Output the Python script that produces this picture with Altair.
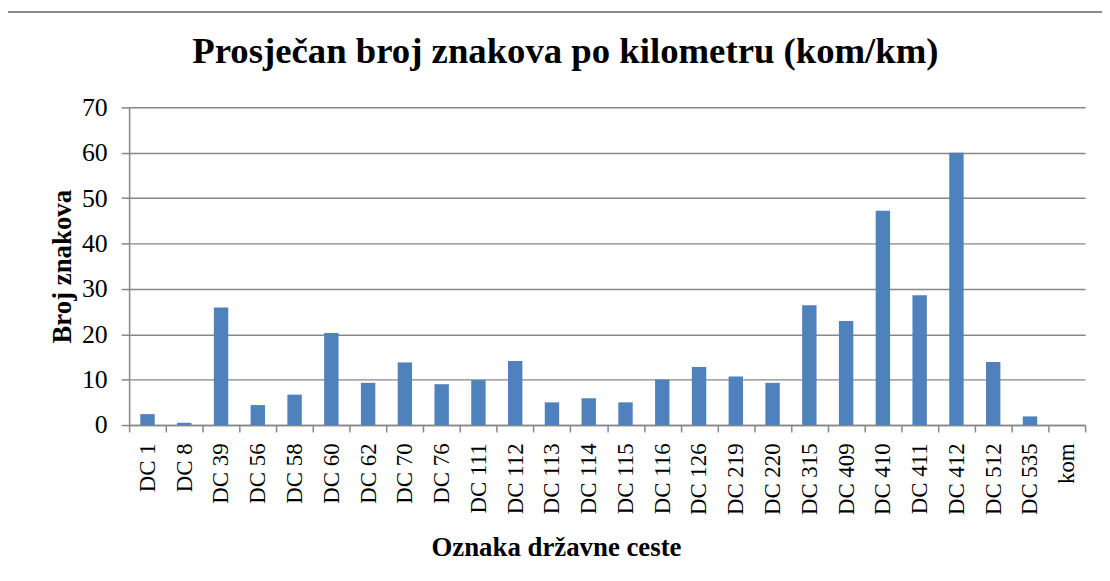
import altair as alt
import pandas as pd

categories = ["DC 1", "DC 8", "DC 39", "DC 56", "DC 58", "DC 60", "DC 62", "DC 70",
              "DC 76", "DC 111", "DC 112", "DC 113", "DC 114", "DC 115", "DC 116",
              "DC 126", "DC 219", "DC 220", "DC 315", "DC 409", "DC 410", "DC 411",
              "DC 412", "DC 512", "DC 535", "kom"]
values = [2.4, 0.5, 25.9, 4.4, 6.7, 20.3, 9.3, 13.8, 9.0, 9.9, 14.1, 5.0, 5.9,
          5.0, 10.0, 12.8, 10.7, 9.3, 26.4, 22.9, 47.2, 28.6, 60.0, 13.9, 1.9, None]
y_ticks = [0, 10, 20, 30, 40, 50, 60, 70]

df = pd.DataFrame({"cesta": categories, "broj": values})

FONT = "Liberation Serif"
GRID = "#878787"

frame = alt.Chart(pd.DataFrame({"f": [0]})).mark_rect(
    fill="transparent", stroke="#8a8a8a", strokeWidth=2
).encode(
    x=alt.value(-126), x2=alt.value(990), y=alt.value(-96), y2=alt.value(520)
)

bars = alt.Chart(df).mark_bar(color="#4f81bd", size=14.5).encode(
    x=alt.X(
        "cesta:N",
        sort=categories,
        scale=alt.Scale(domain=categories, paddingInner=0, paddingOuter=0),
        axis=alt.Axis(
            title="Oznaka državne ceste",
            labelAngle=270,
            labelAlign="right",
            labelBaseline="middle",
            labelFont=FONT,
            labelFontSize=23,
            labelColor="black",
            labelPadding=11,
            tickBand="extent",
            tickSize=7,
            tickColor=GRID,
            tickWidth=1.5,
            domainColor=GRID,
            domainWidth=1.5,
            grid=False,
            titleFont=FONT,
            titleFontSize=27,
            titleFontWeight="bold",
            titleColor="black",
            titleX=430,
            titleY=131,
            titleAlign="center",
            titleBaseline="alphabetic",
        ),
    ),
    y=alt.Y(
        "broj:Q",
        scale=alt.Scale(domain=[0, 70], nice=False),
        axis=alt.Axis(
            title="Broj znakova",
            values=y_ticks,
            labelFont=FONT,
            labelFontSize=26,
            labelColor="black",
            labelPadding=14,
            tickSize=8,
            tickColor=GRID,
            tickWidth=1.5,
            domainColor=GRID,
            domainWidth=1.5,
            grid=True,
            gridColor=GRID,
            gridWidth=1.5,
            titleFont=FONT,
            titleFontSize=27,
            titleFontWeight="bold",
            titleColor="black",
            titleAngle=270,
            titleX=-59,
            titleY=160,
            titleAlign="center",
            titleBaseline="alphabetic",
        ),
    ),
)

chart = alt.layer(frame, bars).properties(
    width=963,
    height=320,
    padding={"left": 122, "top": 98, "right": 17, "bottom": 155},
    autosize=alt.AutoSizeParams(type="none"),
    title=alt.TitleParams(
        text="Prosječan broj znakova po kilometru (kom/km)",
        font=FONT,
        fontSize=37,
        fontWeight="bold",
        color="black",
        anchor="middle",
        baseline="alphabetic",
        dx=-42,
        dy=89,
        offset=0,
    ),
).configure_view(strokeWidth=0)

chart.save("out.html", embed_options={"renderer": "svg", "actions": False})
